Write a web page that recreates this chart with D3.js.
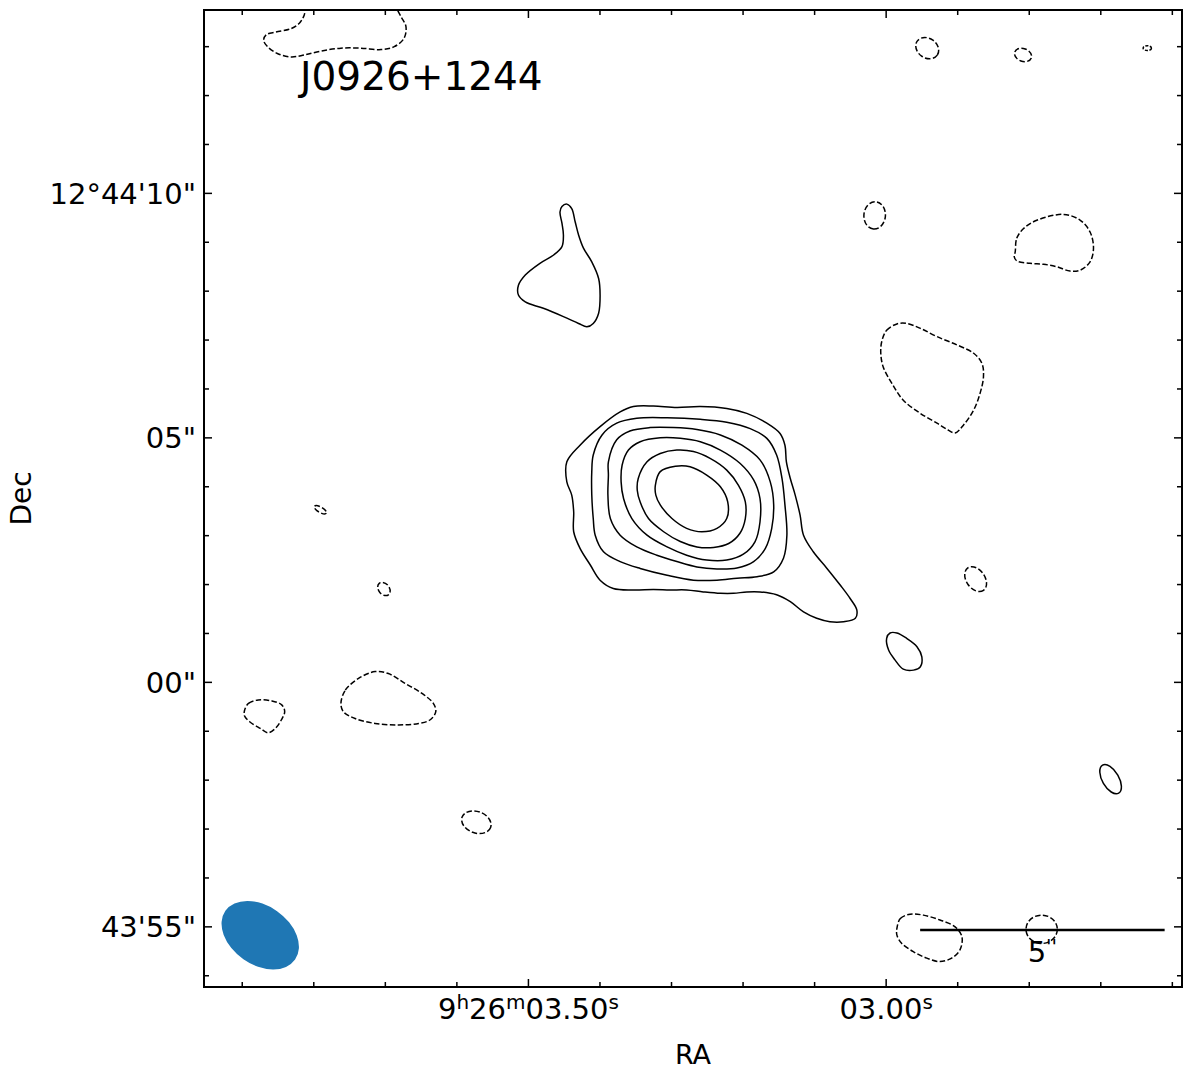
<!DOCTYPE html>
<html><head><meta charset="utf-8">
<script src="https://cdn.jsdelivr.net/npm/d3@7"></script>
<style>
body{margin:0;background:#fff}
svg{display:block}
text{font-family:"DejaVu Sans",sans-serif;fill:#000}
</style>
</head><body>
<svg id="chart" width="1200" height="1072"></svg>
<script>
// ---------------- data (arcsec offsets from RA 09h26m03.00s, Dec +12°44'00"; x = east offset) ----------------
const title = "J0926+1244";
const decRefDeg = 12 + 44/60;
const raRefSec = 3.00;
const raTicks = [2.6,2.7,2.8,2.9,3.0,3.1,3.2,3.3,3.4,3.5,3.6,3.7,3.8,3.9];
const raLabels = [
  {s:3.50, parts:[["9",0],["h",1],["26",0],["m",1],["03.50",0],["s",1]]},
  {s:3.00, parts:[["03.00",0],["s",1]]}
];
const decTicks = [-6,-5,-4,-3,-2,-1,0,1,2,3,4,5,6,7,8,9,10,11,12,13];
const decLabels = [[10,"12°44'10\""],[5,"05\""],[0,"00\""],[-5,"43'55\""]];

// positive contours around the source (outer -> inner)
const core1 = [[6.53,4.51],[6.26,4.85],[5.85,5.23],[5.44,5.53],[5.17,5.64],[4.76,5.65],[4.28,5.62],[3.80,5.64],[3.26,5.60],[2.85,5.50],[2.44,5.30],[2.17,5.09],[2.07,4.85],[2.04,4.51],[1.96,4.17],[1.86,3.83],[1.76,3.42],[1.69,3.01],[1.49,2.67],[1.21,2.33],[0.94,1.99],[0.74,1.72],[0.60,1.48],[0.63,1.31],[0.87,1.24],[1.15,1.24],[1.42,1.31],[1.69,1.44],[1.96,1.65],[2.24,1.79],[2.58,1.85],[2.85,1.85],[3.12,1.82],[3.39,1.82],[3.74,1.85],[4.08,1.89],[4.42,1.89],[4.76,1.90],[5.17,1.89],[5.58,1.92],[5.85,2.09],[6.05,2.40],[6.26,2.74],[6.39,3.08],[6.39,3.49],[6.43,3.83],[6.53,4.10]];
const core2 = [[5.99,4.65],[5.81,5.06],[5.51,5.30],[5.10,5.40],[4.48,5.41],[3.80,5.38],[3.26,5.32],[2.78,5.19],[2.44,4.99],[2.24,4.65],[2.13,4.17],[2.07,3.63],[2.03,3.01],[2.10,2.54],[2.30,2.26],[2.64,2.16],[3.05,2.13],[3.46,2.09],[3.94,2.09],[4.48,2.19],[5.03,2.33],[5.44,2.47],[5.78,2.67],[5.95,3.01],[5.99,3.35],[6.02,3.83],[6.02,4.31]];
const core3 = [[5.68,4.51],[5.51,4.96],[5.24,5.14],[4.83,5.21],[4.35,5.21],[3.87,5.17],[3.39,5.06],[2.95,4.85],[2.58,4.55],[2.37,4.10],[2.30,3.63],[2.34,3.15],[2.47,2.74],[2.71,2.47],[3.05,2.34],[3.46,2.32],[3.87,2.36],[4.28,2.47],[4.69,2.60],[5.10,2.77],[5.44,3.01],[5.64,3.35],[5.69,3.83],[5.68,4.24]];
const core4 = [[5.40,4.44],[5.27,4.75],[5.03,4.92],[4.62,5.00],[4.21,4.99],[3.80,4.92],[3.39,4.75],[2.99,4.48],[2.71,4.14],[2.58,3.76],[2.58,3.28],[2.68,2.88],[2.92,2.62],[3.26,2.50],[3.67,2.50],[4.08,2.60],[4.48,2.77],[4.89,3.01],[5.20,3.35],[5.37,3.76],[5.42,4.10]];
const core5 = [[5.07,4.17],[4.89,4.51],[4.62,4.68],[4.28,4.75],[3.94,4.72],[3.60,4.58],[3.26,4.34],[3.02,4.03],[2.88,3.69],[2.88,3.35],[2.99,3.05],[3.22,2.84],[3.53,2.76],[3.87,2.77],[4.21,2.88],[4.55,3.08],[4.86,3.35],[5.03,3.69],[5.09,3.93]];
const core6 = [[4.72,4.03],[4.62,4.31],[4.31,4.42],[4.01,4.41],[3.67,4.24],[3.39,4.00],[3.24,3.69],[3.26,3.35],[3.46,3.15],[3.77,3.08],[4.08,3.15],[4.38,3.35],[4.62,3.63],[4.71,3.83]];
// other positive islands
const northBlob = [[6.63,9.73],[6.53,9.78],[6.43,9.69],[6.36,9.42],[6.29,9.15],[6.19,8.88],[6.02,8.60],[5.88,8.26],[5.85,7.92],[5.88,7.55],[5.99,7.34],[6.12,7.27],[6.29,7.34],[6.60,7.48],[7.01,7.65],[7.38,7.78],[7.52,7.92],[7.52,8.12],[7.38,8.33],[7.08,8.57],[6.80,8.74],[6.63,8.91],[6.60,9.15],[6.63,9.39],[6.67,9.62]];
const southDrop = [[-0.01,0.90],[-0.08,1.01],[-0.22,1.01],[-0.42,0.90],[-0.63,0.73],[-0.73,0.52],[-0.70,0.32],[-0.56,0.25],[-0.35,0.27],[-0.18,0.46],[-0.05,0.66]];
// negative contours
const negTopLeft = [[11.87,13.85],[11.90,13.65],[12.00,13.48],[12.17,13.37],[12.48,13.30],[12.68,13.24],[12.73,13.13],[12.65,13.00],[12.45,12.86],[12.17,12.79],[11.90,12.83],[11.56,12.91],[11.15,12.97],[10.74,12.97],[10.33,12.94],[10.06,13.00],[9.86,13.17],[9.82,13.41],[9.92,13.61],[10.05,13.85]];
const negTopRight = [[-2.64,8.81],[-2.67,9.08],[-2.81,9.28],[-3.08,9.45],[-3.63,9.57],[-3.97,9.45],[-4.17,9.21],[-4.24,8.88],[-4.17,8.60],[-3.97,8.43],[-3.76,8.41],[-3.49,8.50],[-3.22,8.55],[-2.94,8.57],[-2.67,8.62],[-2.62,8.70]];
const negEast = [[0.09,6.97],[-0.01,7.20],[-0.22,7.33],[-0.42,7.34],[-0.70,7.24],[-1.04,7.07],[-1.45,6.90],[-1.79,6.73],[-1.96,6.52],[-1.99,6.25],[-1.92,5.91],[-1.79,5.57],[-1.58,5.26],[-1.41,5.10],[-1.27,5.16],[-1.04,5.30],[-0.70,5.50],[-0.35,5.77],[-0.12,6.11],[0.06,6.45],[0.11,6.73]];
const negWestA = [[13.12,-0.57],[13.04,-0.43],[12.84,-0.36],[12.56,-0.38],[12.36,-0.46],[12.30,-0.60],[12.37,-0.77],[12.49,-0.94],[12.64,-1.03],[12.80,-0.94],[13.01,-0.81],[13.12,-0.69]];
const negWestB = [[11.15,-0.43],[11.06,-0.16],[10.79,0.08],[10.45,0.22],[10.18,0.18],[9.84,-0.02],[9.50,-0.22],[9.26,-0.43],[9.21,-0.60],[9.33,-0.77],[9.56,-0.84],[9.97,-0.87],[10.45,-0.84],[10.86,-0.74],[11.10,-0.60]];
const negSouth = [[-0.22,-5.03],[-0.29,-4.83],[-0.49,-4.74],[-0.76,-4.76],[-1.10,-4.86],[-1.41,-5.00],[-1.55,-5.20],[-1.51,-5.47],[-1.34,-5.64],[-1.10,-5.71],[-0.83,-5.64],[-0.56,-5.51],[-0.32,-5.34],[-0.22,-5.17]];
// small elliptical islands: centre, semi-axes (arcsec), tilt (deg), negative?
const smallIslands = [
  {c:[-0.84,12.97], a:0.25, b:0.20, tilt:35, neg:true},
  {c:[-2.80,12.83], a:0.18, b:0.13, tilt:20, neg:true},
  {c:[-5.34,12.97], a:0.085,b:0.05, tilt:0,  neg:true},
  {c:[0.235,9.55],  a:0.28, b:0.22, tilt:95, neg:true},
  {c:[11.57,3.53],  a:0.14, b:0.055,tilt:30, neg:true},
  {c:[10.27,1.91],  a:0.15, b:0.11, tilt:50, neg:true},
  {c:[8.38,-2.86],  a:0.31, b:0.22, tilt:20, neg:true},
  {c:[-1.83,2.11],  a:0.28, b:0.19, tilt:55, neg:true},
  {c:[-3.18,-5.05], a:0.32, b:0.29, tilt:0,  neg:true},
  {c:[-4.59,-1.98], a:0.33, b:0.17, tilt:60, neg:false}
];
const closedContours = [
  {pts:core1,neg:false},{pts:core2,neg:false},{pts:core3,neg:false},{pts:core4,neg:false},{pts:core5,neg:false},{pts:core6,neg:false},
  {pts:northBlob,neg:false},{pts:southDrop,neg:false},
  {pts:negTopRight,neg:true},{pts:negEast,neg:true},{pts:negWestA,neg:true},{pts:negWestB,neg:true},{pts:negSouth,neg:true}
];
const openContours = [{pts:negTopLeft,neg:true}];
const beam = {c:[12.80,-5.17], a:0.87, b:0.60, tilt:35};
const scaleBar = {x0:-0.695, len:5, y:-5.065, label:"5", unit:"''"};

// ---------------- drawing ----------------
const L=204, R=1182, T=10, B=987;
const svg = d3.select("#chart");
const x = d3.scaleLinear().domain([13.95,-6.05]).range([L,R]);
const y = d3.scaleLinear().domain([-6.23,13.75]).range([B,T]);
const pxPerArcsec = Math.abs(x(1)-x(0));
const arcsecPerSec = 15*Math.cos(decRefDeg*Math.PI/180);
const raToX = s => x((s-raRefSec)*arcsecPerSec);

svg.append("defs").append("clipPath").attr("id","plotclip")
  .append("rect").attr("x",L).attr("y",T).attr("width",R-L).attr("height",B-T);
const g = svg.append("g").attr("clip-path","url(#plotclip)");

const dash = "5.5,2.4";
const lineClosed = d3.line().x(d=>x(d[0])).y(d=>y(d[1])).curve(d3.curveCatmullRomClosed.alpha(0.5));
const lineOpen = d3.line().x(d=>x(d[0])).y(d=>y(d[1])).curve(d3.curveCatmullRom.alpha(0.5));

// beam
g.append("ellipse")
  .attr("cx",x(beam.c[0])).attr("cy",y(beam.c[1]))
  .attr("rx",beam.a*pxPerArcsec).attr("ry",beam.b*pxPerArcsec)
  .attr("transform",`rotate(${beam.tilt},${x(beam.c[0])},${y(beam.c[1])})`)
  .attr("fill","#1f77b4");

g.selectAll("path.cc").data(closedContours).join("path")
  .attr("class","cc").attr("d",d=>lineClosed(d.pts))
  .attr("fill","none").attr("stroke","#000").attr("stroke-width",1.5)
  .attr("stroke-dasharray",d=>d.neg?dash:null);
g.selectAll("path.oc").data(openContours).join("path")
  .attr("class","oc").attr("d",d=>lineOpen(d.pts))
  .attr("fill","none").attr("stroke","#000").attr("stroke-width",1.5)
  .attr("stroke-dasharray",d=>d.neg?dash:null);
g.selectAll("ellipse.isl").data(smallIslands).join("ellipse")
  .attr("class","isl")
  .attr("cx",d=>x(d.c[0])).attr("cy",d=>y(d.c[1]))
  .attr("rx",d=>d.a*pxPerArcsec).attr("ry",d=>d.b*pxPerArcsec)
  .attr("transform",d=>`rotate(${d.tilt},${x(d.c[0])},${y(d.c[1])})`)
  .attr("fill","none").attr("stroke","#000").attr("stroke-width",1.5)
  .attr("stroke-dasharray",d=>d.neg?(d.a<0.1?"3,1.5":dash):null);

// scale bar
svg.append("line")
  .attr("x1",x(scaleBar.x0)).attr("x2",x(scaleBar.x0-scaleBar.len))
  .attr("y1",y(scaleBar.y)).attr("y2",y(scaleBar.y))
  .attr("stroke","#000").attr("stroke-width",2.5);
const sbt = svg.append("text").attr("x",x(scaleBar.x0-scaleBar.len/2)).attr("y",y(scaleBar.y)+32)
  .attr("text-anchor","middle").attr("font-size",29);
sbt.append("tspan").text(scaleBar.label);
sbt.append("tspan").attr("font-size",20).attr("dy",-9).attr("font-style","italic").text(scaleBar.unit);

// title
svg.append("text").attr("x",300).attr("y",90).attr("font-size",39).text(title);

// frame & ticks
svg.append("rect").attr("x",L).attr("y",T).attr("width",R-L).attr("height",B-T)
  .attr("fill","none").attr("stroke","#000").attr("stroke-width",2);
const raMajor = new Set(raLabels.map(d=>d.s.toFixed(2)));
const decMajor = new Set(decLabels.map(d=>d[0]));
const tk = svg.append("g").attr("stroke","#000").attr("stroke-width",1.5);
raTicks.forEach(s=>{
  const px = raToX(s), len = raMajor.has(s.toFixed(2))?8:5;
  tk.append("line").attr("x1",px).attr("x2",px).attr("y1",B).attr("y2",B-len);
  tk.append("line").attr("x1",px).attr("x2",px).attr("y1",T).attr("y2",T+len);
});
decTicks.forEach(d=>{
  const py = y(d), len = decMajor.has(d)?8:5;
  tk.append("line").attr("x1",L).attr("x2",L+len).attr("y1",py).attr("y2",py);
  tk.append("line").attr("x1",R).attr("x2",R-len).attr("y1",py).attr("y2",py);
});

// tick labels
raLabels.forEach(l=>{
  const t = svg.append("text").attr("x",raToX(l.s)).attr("y",1019)
    .attr("text-anchor","middle").attr("font-size",29);
  let up = false;
  l.parts.forEach(([str,sup])=>{
    const ts = t.append("tspan").text(str);
    if(sup && !up){ ts.attr("font-size",20).attr("dy",-10); up=true; }
    else if(!sup && up){ ts.attr("dy",10); up=false; }
    else if(sup){ ts.attr("font-size",20); }
  });
});
decLabels.forEach(([d,str])=>{
  svg.append("text").attr("x",196).attr("y",y(d)+10.5)
    .attr("text-anchor","end").attr("font-size",29).text(str);
});

// axis titles
svg.append("text").attr("x",(L+R)/2).attr("y",1064).attr("text-anchor","middle")
  .attr("font-size",27).text("RA");
svg.append("text").attr("transform",`translate(31,${(T+B)/2}) rotate(-90)`)
  .attr("text-anchor","middle").attr("font-size",28).text("Dec");
</script>
</body></html>
